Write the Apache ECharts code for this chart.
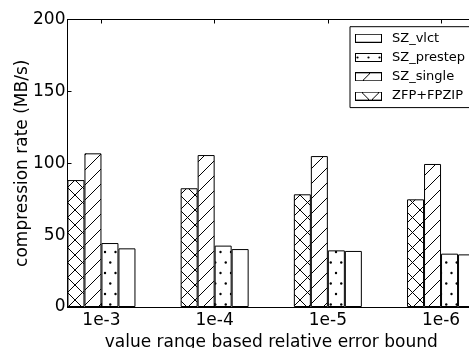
<!DOCTYPE html>
<html><head><meta charset="utf-8">
<script src="https://cdn.jsdelivr.net/npm/echarts@6/dist/echarts.min.js"></script>
<style>html,body{margin:0;padding:0;background:#fff}#c{width:469px;height:348px}</style>
</head><body><div id="c"></div>
<script>
var categories = ['1e-3', '1e-4', '1e-5', '1e-6'];
var zfpFpzip = [88.3, 82.6, 78.4, 74.9];
var szSingle = [106.9, 105.7, 105.0, 99.5];
var szPrestep = [44.5, 42.7, 39.4, 37.1];
var szVlct = [40.8, 40.3, 39.0, 36.6];
var yTicks = [0, 50, 100, 150, 200];
var legendOrder = ['SZ_vlct', 'SZ_prestep', 'SZ_single', 'ZFP+FPZIP'];

function mkCanvas(w, h, draw) {
  var c = document.createElement('canvas');
  c.width = w; c.height = h;
  var g = c.getContext('2d');
  g.fillStyle = '#fff'; g.fillRect(0, 0, w, h);
  g.strokeStyle = '#000'; g.fillStyle = '#000'; g.lineWidth = 1;
  draw(g, w, h);
  return c;
}
function tile(w, h, draw) { return {image: mkCanvas(w, h, draw), repeat: 'repeat'}; }
var P = 15;
function diagNE(g, w, h) {
  g.beginPath();
  for (var k = -1; k <= 1; k++) { g.moveTo(-2 + k * w, h + 2); g.lineTo(w + 2 + k * w, -2); }
  g.stroke();
}
function diagNW(g, w, h) {
  g.beginPath();
  for (var k = -1; k <= 1; k++) { g.moveTo(-2 + k * w, -2); g.lineTo(w + 2 + k * w, h + 2); }
  g.stroke();
}
var patCross = tile(P, P, function (g, w, h) { diagNE(g, w, h); diagNW(g, w, h); });
var patSlash = tile(P, P, function (g, w, h) { diagNE(g, w, h); });
var patDots = tile(21, 21, function (g) {
  var pts = [[0, 0], [10.5, 0], [21, 0], [5.25, 10.5], [15.75, 10.5], [0, 21], [10.5, 21], [21, 21]];
  pts.forEach(function (p) { g.beginPath(); g.arc(p[0], p[1], 1.2, 0, Math.PI * 2); g.fill(); });
});
var patPlain = '#fff';

// legend icons (27x9 patches)
function icon(draw) {
  return 'image://' + mkCanvas(27, 9, function (g, w, h) {
    draw(g, w, h);
    g.strokeRect(0.5, 0.5, w - 1, h - 1);
  }).toDataURL();
}
var iconPlain = icon(function () {});
var iconDots = icon(function (g) {
  [2.5, 13.5, 24.5].forEach(function (x) { g.beginPath(); g.arc(x, 4.5, 1.1, 0, Math.PI * 2); g.fill(); });
});
var iconSlash = icon(function (g) { g.beginPath(); g.moveTo(7, 9); g.lineTo(16, 0); g.stroke(); });
var iconCross = icon(function (g) {
  g.beginPath(); g.moveTo(6, 0); g.lineTo(16, 10); g.moveTo(25, 0); g.lineTo(15, 10); g.stroke();
});
var icons = {'SZ_vlct': iconPlain, 'SZ_prestep': iconDots, 'SZ_single': iconSlash, 'ZFP+FPZIP': iconCross};

var FONT = 'DejaVu Sans';
function mk(name, vals, color) {
  return {
    name: name, type: 'bar', barWidth: 17, barGap: '0%',
    data: vals.map(function (v, i) { return [i, v]; }),
    itemStyle: {color: color, borderColor: '#000', borderWidth: 1},
    emphasis: {disabled: true}, animation: false
  };
}
var chart = echarts.init(document.getElementById('c'), null, {renderer: 'canvas'});
var tickPos = categories.map(function (c, i) { return i; });
chart.setOption({
  animation: false,
  grid: {left: 67.5, right: -6, top: 19.5, bottom: 41, containLabel: false, outerBoundsMode: 'none'},
  xAxis: [{
    type: 'value', min: -0.3, max: 3.3, position: 'bottom',
    axisLine: {show: true, onZero: false, lineStyle: {color: '#000', width: 1}},
    axisTick: {show: true, inside: true, length: 4, customValues: tickPos, lineStyle: {color: '#000'}},
    axisLabel: {customValues: tickPos, formatter: function (v) { return categories[Math.round(v)]; },
      color: '#000', fontFamily: FONT, fontSize: 17, margin: 5},
    splitLine: {show: false},
    name: 'value range based relative error bound', nameLocation: 'middle', nameGap: 24,
    nameTextStyle: {color: '#000', fontFamily: FONT, fontSize: 17}
  }, {
    type: 'value', min: -0.3, max: 3.3, position: 'top',
    axisLine: {show: true, onZero: false, lineStyle: {color: '#000', width: 1}},
    axisTick: {show: true, inside: true, length: 4, customValues: tickPos, lineStyle: {color: '#000'}},
    axisLabel: {show: false}, splitLine: {show: false}
  }],
  yAxis: {
    type: 'value', min: 0, max: 200, interval: 50,
    axisLine: {show: true, onZero: false, lineStyle: {color: '#000', width: 1}},
    axisTick: {show: true, inside: true, length: 4, lineStyle: {color: '#000'}},
    axisLabel: {customValues: yTicks, color: '#000', fontFamily: FONT, fontSize: 17, margin: 2},
    splitLine: {show: false},
    name: 'compression rate (MB/s)', nameLocation: 'middle', nameGap: 36, nameMoveOverlap: false,
    nameTextStyle: {color: '#000', fontFamily: FONT, fontSize: 17}
  },
  legend: {
    data: legendOrder.map(function (n) { return {name: n, icon: icons[n]}; }),
    orient: 'vertical', left: 350, top: 26.7,
    itemWidth: 27, itemHeight: 9, itemGap: 6.3,
    padding: [5, 5, 5, 5], borderColor: '#000', borderWidth: 1, borderRadius: 0,
    backgroundColor: '#fff',
    textStyle: {color: '#000', fontFamily: FONT, fontSize: 13, lineHeight: 13, padding: [0, 0, 0, 5]},
    selectedMode: false
  },
  series: [
    mk('ZFP+FPZIP', zfpFpzip, patCross),
    mk('SZ_single', szSingle, patSlash),
    mk('SZ_prestep', szPrestep, patDots),
    mk('SZ_vlct', szVlct, patPlain)
  ]
});
</script></body></html>
